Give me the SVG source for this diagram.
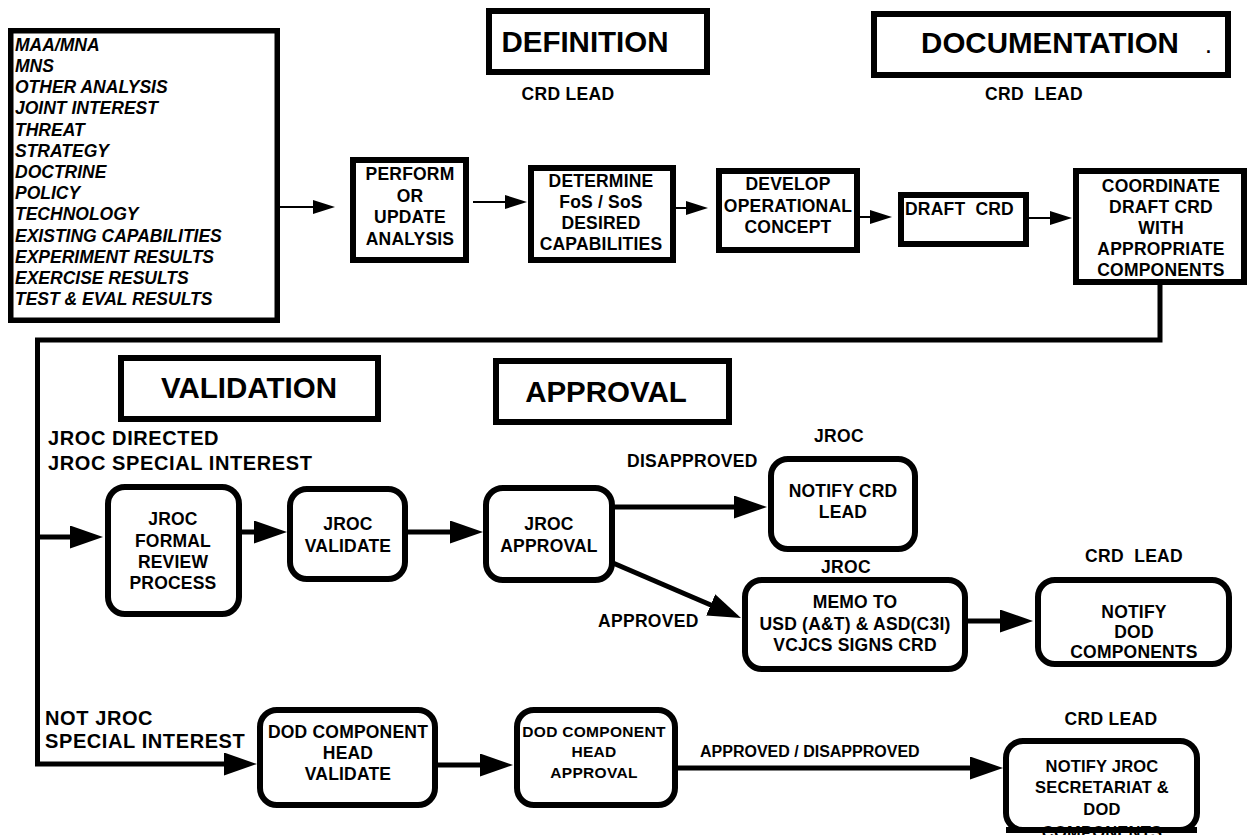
<svg xmlns="http://www.w3.org/2000/svg" width="1248" height="835" viewBox="0 0 1248 835">
<style>
.box{fill:#fff;stroke:#000;stroke-width:6}
.lbox{fill:#fff;stroke:#000;stroke-width:5.5}
text{font-family:"Liberation Sans",Arial,sans-serif;font-weight:bold;fill:#000}
.bt{font-size:17.5px;letter-spacing:0.2px;text-anchor:middle}
.bs{font-size:15.5px;letter-spacing:0.3px;text-anchor:middle}
.hd{font-size:29.5px;text-anchor:middle}
.lst{font-size:17.5px;font-style:italic}
.lbl{font-size:17.5px;letter-spacing:0.3px}
.mid{text-anchor:middle}
.side{font-size:20px;letter-spacing:0.6px}
.thin{stroke:#000;stroke-width:2;fill:none}
.thick{stroke:#000;stroke-width:5;fill:none}
</style>
<defs>
<marker id="ah" markerUnits="userSpaceOnUse" markerWidth="22" markerHeight="14" refX="16" refY="7" orient="auto">
<path d="M0,0 L22,7 L0,14 z" fill="#000"/>
</marker>
<marker id="AH" markerUnits="userSpaceOnUse" markerWidth="33" markerHeight="23" refX="23" refY="11.5" orient="auto">
<path d="M0,0 L33,11.5 L0,23 z" fill="#000"/>
</marker>
</defs>
<rect width="1248" height="835" fill="#fff"/>

<g id="connectors">
<line class="thin" x1="280" y1="207" x2="329" y2="207" marker-end="url(#ah)"/>
<line class="thin" x1="473" y1="202" x2="521" y2="202" marker-end="url(#ah)"/>
<line class="thin" x1="676" y1="208" x2="702" y2="208" marker-end="url(#ah)"/>
<line class="thin" x1="860" y1="217" x2="886" y2="217" marker-end="url(#ah)"/>
<line class="thin" x1="1029" y1="218" x2="1066" y2="218" marker-end="url(#ah)"/>
<polyline class="thick" points="1160,285 1160,340 37.5,340 37.5,764 247,764" marker-end="url(#AH)"/>
<line class="thick" x1="37" y1="537" x2="93" y2="537" marker-end="url(#AH)"/>
<line class="thick" x1="242" y1="532" x2="277" y2="532" marker-end="url(#AH)"/>
<line class="thick" x1="408" y1="532" x2="473" y2="532" marker-end="url(#AH)"/>
<line class="thick" x1="615" y1="507" x2="757" y2="507" marker-end="url(#AH)"/>
<line class="thick" x1="613" y1="563" x2="731.8" y2="614" marker-end="url(#AH)"/>
<line class="thick" x1="968" y1="621" x2="1023" y2="621" marker-end="url(#AH)"/>
<line class="thick" x1="438" y1="765" x2="503" y2="765" marker-end="url(#AH)"/>
<line class="thick" x1="678" y1="768" x2="993" y2="768" marker-end="url(#AH)"/>
</g>

<g id="inputs">
<rect class="lbox" x="10.75" y="30.75" width="266.5" height="289.5"/>
<text class="lst" x="15" y="50.7">MAA/MNA</text>
<text class="lst" x="15" y="71.9">MNS</text>
<text class="lst" x="15" y="93.1">OTHER ANALYSIS</text>
<text class="lst" x="15" y="114.3">JOINT INTEREST</text>
<text class="lst" x="15" y="135.5">THREAT</text>
<text class="lst" x="15" y="156.7">STRATEGY</text>
<text class="lst" x="15" y="177.9">DOCTRINE</text>
<text class="lst" x="15" y="199.1">POLICY</text>
<text class="lst" x="15" y="220.3">TECHNOLOGY</text>
<text class="lst" x="15" y="241.5">EXISTING CAPABILITIES</text>
<text class="lst" x="15" y="262.7">EXPERIMENT RESULTS</text>
<text class="lst" x="15" y="283.9">EXERCISE RESULTS</text>
<text class="lst" x="15" y="305.1">TEST &amp; EVAL RESULTS</text>
</g>

<g id="definition">
<rect class="box" x="489" y="11" width="218" height="61"/>
<text class="hd" x="585" y="52">DEFINITION</text>
<text class="lbl mid" x="568" y="100">CRD LEAD</text>
</g>

<g id="documentation">
<rect class="box" x="874" y="14" width="354" height="61"/>
<text class="hd" x="1050" y="53">DOCUMENTATION</text>
<text class="lbl" x="1206" y="53">.</text>
<text class="lbl mid" x="1034" y="100" xml:space="preserve">CRD  LEAD</text>
</g>

<g id="perform">
<rect class="box" x="353" y="160" width="113" height="100"/>
<text class="bt" x="410" y="180">PERFORM</text>
<text class="bt" x="410" y="201.5">OR</text>
<text class="bt" x="410" y="223">UPDATE</text>
<text class="bt" x="410" y="244.5">ANALYSIS</text>
</g>

<g id="determine">
<rect class="box" x="531" y="168" width="142" height="92"/>
<text class="bt" x="601" y="187">DETERMINE</text>
<text class="bt" x="601" y="208">FoS / SoS</text>
<text class="bt" x="601" y="229">DESIRED</text>
<text class="bt" x="601" y="250">CAPABILITIES</text>
</g>

<g id="develop">
<rect class="box" x="719" y="171" width="138" height="79"/>
<text class="bt" x="788" y="190">DEVELOP</text>
<text class="bt" x="788" y="212">OPERATIONAL</text>
<text class="bt" x="788" y="233">CONCEPT</text>
</g>

<g id="draft">
<rect class="box" x="901" y="195" width="125" height="49"/>
<text class="bt" x="905" y="215" style="text-anchor:start" xml:space="preserve">DRAFT  CRD</text>
</g>

<g id="coordinate">
<rect class="box" x="1076" y="171" width="168" height="111"/>
<text class="bt" x="1161" y="192">COORDINATE</text>
<text class="bt" x="1161" y="213">DRAFT CRD</text>
<text class="bt" x="1161" y="234">WITH</text>
<text class="bt" x="1161" y="255">APPROPRIATE</text>
<text class="bt" x="1161" y="276">COMPONENTS</text>
</g>

<g id="validation">
<rect class="box" x="121" y="358" width="257" height="61"/>
<text class="hd" x="249" y="398">VALIDATION</text>
</g>

<g id="approval">
<rect class="box" x="496" y="361" width="233" height="61"/>
<text class="hd" x="606" y="402">APPROVAL</text>
</g>

<g id="jroc-labels">
<text class="side" x="48" y="445">JROC DIRECTED</text>
<text class="side" x="48" y="470">JROC SPECIAL INTEREST</text>
</g>

<g id="not-jroc-labels">
<text class="side" x="45" y="725">NOT JROC</text>
<text class="side" x="45" y="748">SPECIAL INTEREST</text>
</g>

<g id="jroc-formal">
<rect class="box" x="108" y="487" width="131" height="127" rx="17"/>
<text class="bt" x="173" y="525">JROC</text>
<text class="bt" x="173" y="547">FORMAL</text>
<text class="bt" x="173" y="568">REVIEW</text>
<text class="bt" x="173" y="589">PROCESS</text>
</g>

<g id="jroc-validate">
<rect class="box" x="290" y="489" width="115" height="90" rx="17"/>
<text class="bt" x="348" y="530">JROC</text>
<text class="bt" x="348" y="552">VALIDATE</text>
</g>

<g id="jroc-approval">
<rect class="box" x="486" y="488" width="126" height="92" rx="17"/>
<text class="bt" x="549" y="530">JROC</text>
<text class="bt" x="549" y="552">APPROVAL</text>
</g>

<g id="notify-crd-lead">
<text class="lbl mid" x="839" y="442">JROC</text>
<text class="lbl" x="627" y="467">DISAPPROVED</text>
<rect class="box" x="771" y="459" width="144" height="90" rx="17"/>
<text class="bt" x="843" y="497">NOTIFY CRD</text>
<text class="bt" x="843" y="518">LEAD</text>
</g>

<g id="memo">
<text class="lbl mid" x="846" y="573">JROC</text>
<text class="lbl" x="598" y="627">APPROVED</text>
<rect class="box" x="745" y="580" width="220" height="89" rx="17"/>
<text class="bt" x="855" y="608">MEMO TO</text>
<text class="bt" x="855" y="630">USD (A&amp;T) &amp; ASD(C3I)</text>
<text class="bt" x="855" y="651">VCJCS SIGNS CRD</text>
</g>

<g id="notify-dod">
<text class="lbl mid" x="1134" y="562" xml:space="preserve">CRD  LEAD</text>
<rect class="box" x="1038" y="580" width="191" height="84" rx="17"/>
<text class="bt" x="1134" y="618">NOTIFY</text>
<text class="bt" x="1134" y="638">DOD</text>
<text class="bt" x="1134" y="658">COMPONENTS</text>
</g>

<g id="dod-validate">
<rect class="box" x="260" y="710" width="175" height="95" rx="17"/>
<text class="bt" x="348" y="738">DOD COMPONENT</text>
<text class="bt" x="348" y="759">HEAD</text>
<text class="bt" x="348" y="780">VALIDATE</text>
</g>

<g id="dod-approval">
<rect class="box" x="517" y="710" width="158" height="95" rx="17"/>
<text class="bs" x="594" y="737">DOD COMPONENT</text>
<text class="bs" x="594" y="757">HEAD</text>
<text class="bs" x="594" y="778">APPROVAL</text>
<text x="700" y="757" style="font-size:16px">APPROVED / DISAPPROVED</text>
</g>

<g id="notify-jroc">
<text class="lbl mid" x="1111" y="725">CRD LEAD</text>
<rect class="box" x="1006" y="741" width="191" height="89" rx="17"/>
<text class="bt" x="1102" y="772" style="font-size:16.5px">NOTIFY JROC</text>
<text class="bt" x="1102" y="793" style="font-size:16.5px">SECRETARIAT &amp;</text>
<text class="bt" x="1102" y="815" style="font-size:16.5px">DOD</text>
<text class="bt" x="1102" y="838" style="font-size:16.5px">COMPONENTS</text>
<line x1="1006" y1="830" x2="1197" y2="830" stroke="#000" stroke-width="6"/>
</g>
</svg>
